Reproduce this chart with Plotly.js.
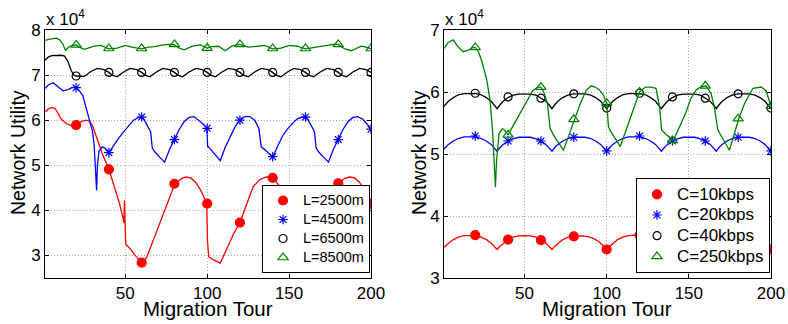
<!DOCTYPE html>
<html>
<head>
<meta charset="utf-8">
<script src="https://cdn.plot.ly/plotly-3.0.1.min.js"></script>
<style>html,body{margin:0;padding:0;background:#fff;}#chart{width:788px;height:324px;}</style>
</head>
<body>
<div id="chart"></div>
<script>
// ---------- shared ----------
const markerX = [20, 40, 60, 80, 100, 120, 140, 160, 180, 200];
const xTicks = [50, 100, 150, 200];
const yTicksLeft = [3, 4, 5, 6, 7, 8];
const yTicksRight = [3, 4, 5, 6, 7];

// ---------- left panel (values in x10^4) ----------
const leftNames = ['L=2500m', 'L=4500m', 'L=6500m', 'L=8500m'];

const L2500x = [1,3,5,7,9,11,14,17,20,23,26,28,30,33,36,40,44,46.5,48.5,49.2,49.5,50.3,51,53,56,60,63,67,71,75,80,84,87,90,93,96,99.7,100.2,101,104,108,112,116,120,124,128,132,136,140,144,148,149.7,150.2,151,154,158,162,166,170,174,178,180,184,187,190,193,196,200];
const L2500y = [6.18,6.25,6.28,6.27,6.15,6.02,5.92,5.88,5.89,5.97,6.0,5.98,5.88,5.55,5.25,4.91,4.45,4.15,3.85,3.72,4.22,3.25,3.22,3.15,3.0,2.84,2.95,3.33,3.72,4.07,4.56,4.7,4.74,4.72,4.62,4.45,4.16,3.3,2.97,2.9,2.83,3.15,3.47,3.73,4.15,4.52,4.68,4.74,4.72,4.55,4.25,4.16,3.3,2.97,2.9,2.83,3.15,3.47,3.73,4.15,4.52,4.6,4.71,4.74,4.72,4.62,4.45,4.15];
const L2500m = [5.89, 4.91, 2.84, 4.59, 4.15, 3.73, 4.72, 2.88, 4.6, 4.15];

const L4500x = [1,3,6,9,12,15,18,20,22,24,26,28,30,31,32,32.5,33,34,36,38,40,43,46,49,52,55,58,60,62,64,65.5,66.5,68,71,74,77,80,83,86,89,92,95,98,99.8,100.3,101.5,104,108,111,114,117,120,123,126,129,131.5,133,136,140,143,146,149,152,155,158,160,162,164,165.5,166.5,168,171,174,177,180,183,186,189,192,195,198,200];
const L4500y = [6.7,6.78,6.83,6.74,6.65,6.68,6.73,6.72,6.65,6.55,6.3,6.05,5.75,5.45,4.9,4.44,5.0,5.32,5.41,5.37,5.28,5.45,5.6,5.74,5.88,6.0,6.06,6.07,5.98,5.85,5.74,5.38,5.3,5.18,5.07,5.35,5.57,5.8,5.97,6.06,6.08,6.0,5.9,5.82,5.42,5.38,5.27,5.1,5.4,5.62,5.85,6.0,6.08,6.08,6.0,5.82,5.41,5.32,5.18,5.42,5.65,5.8,5.93,6.03,6.07,6.07,5.98,5.85,5.74,5.38,5.3,5.18,5.07,5.35,5.57,5.8,5.97,6.06,6.08,6.02,5.9,5.8];
const L4500m = [6.72, 5.28, 6.07, 5.57, 5.82, 6.0, 5.19, 6.07, 5.57, 5.8];

const L6500x = [1,3,5,8,11,13,15,17,18.5,20,22,25,29,33,37,40,42,45,49,53,57,60,62,65,69,73,77,80,82,85,89,93,97,100,102,105,109,113,117,120,122,125,129,133,137,140,142,145,149,153,157,160,162,165,169,173,177,180,182,185,189,193,197,200];
const L6500y = [7.33,7.4,7.43,7.44,7.44,7.42,7.3,7.1,7.0,6.98,6.97,6.97,7.08,7.15,7.12,7.06,7.0,6.96,7.07,7.15,7.12,7.06,7.0,6.96,7.07,7.15,7.12,7.06,7.0,6.96,7.07,7.15,7.12,7.06,7.0,6.96,7.07,7.15,7.12,7.06,7.0,6.96,7.07,7.15,7.12,7.06,7.0,6.96,7.07,7.15,7.12,7.06,7.0,6.96,7.07,7.15,7.12,7.06,7.0,6.96,7.07,7.15,7.12,7.06];
const L6500m = [6.98, 7.06, 7.06, 7.06, 7.06, 7.06, 7.06, 7.06, 7.06, 7.06];

const L8500x = [1,4,8,10,11.6,13.5,15.5,18,20,22,25,28,31,35,37.5,40,45,50,54,57,60,64,68,73,77,80,83,86,91,96,100,103,107,111,115,120,125,131,135,140,145,150,155,160,166,172,177,180,184,188,194,197,200];
const L8500y = [7.77,7.8,7.82,7.78,7.71,7.55,7.62,7.66,7.67,7.62,7.57,7.6,7.64,7.66,7.62,7.58,7.6,7.66,7.62,7.6,7.58,7.62,7.63,7.67,7.68,7.67,7.6,7.56,7.64,7.67,7.6,7.63,7.64,7.54,7.64,7.68,7.62,7.64,7.66,7.58,7.6,7.66,7.64,7.58,7.62,7.66,7.68,7.68,7.58,7.54,7.64,7.62,7.58];
const L8500m = [7.67, 7.59, 7.59, 7.68, 7.6, 7.68, 7.59, 7.59, 7.68, 7.59];

// ---------- right panel (values in x10^4) ----------
const rightNames = ['C=10kbps', 'C=20kbps', 'C=40kbps', 'C=250kbps'];

const arcX = [1,3.7,6.7,9.7,13.2,16.7,20.2,23.7,26.7,29.7,31.7,33.3,35,37,40,43,46.5,50,53.5,57,60,63,65,66.7,68.3,70.3,73.3,76.3,79.8,83.3,86.8,90.3,93.3,96.3,98.3,100,101.7,103.7,106.7,109.7,113.2,116.7,120.2,123.7,126.7,129.7,131.7,133.3,135,137,140,143,146.5,150,153.5,157,160,163,165,166.7,168.3,170.3,173.3,176.3,179.8,183.3,186.8,190.3,193.3,196.3,198.3,200];
const C10y = [3.49,3.56,3.62,3.66,3.685,3.69,3.685,3.66,3.62,3.56,3.51,3.46, 3.51,3.56,3.62,3.66,3.68,3.685,3.68,3.66,3.61,3.56,3.51,3.46, 3.51,3.56,3.62,3.655,3.675,3.68,3.675,3.655,3.62,3.56,3.51,3.46, 3.51,3.56,3.62,3.66,3.685,3.69,3.685,3.66,3.62,3.56,3.51,3.46, 3.51,3.56,3.62,3.66,3.68,3.685,3.68,3.66,3.61,3.56,3.51,3.46, 3.51,3.56,3.62,3.655,3.675,3.68,3.675,3.655,3.62,3.56,3.51,3.46];
const C10m = [3.69, 3.62, 3.61, 3.67, 3.46, 3.69, 3.62, 3.61, 3.67, 3.46];

const C20y = [5.08,5.155,5.21,5.25,5.275,5.28,5.275,5.25,5.21,5.155,5.10,5.045, 5.10,5.155,5.21,5.245,5.27,5.275,5.27,5.245,5.21,5.155,5.10,5.045, 5.10,5.155,5.21,5.25,5.27,5.275,5.27,5.25,5.21,5.155,5.10,5.045, 5.10,5.155,5.21,5.25,5.275,5.28,5.275,5.25,5.21,5.155,5.10,5.045, 5.10,5.155,5.21,5.245,5.27,5.275,5.27,5.245,5.21,5.155,5.10,5.045, 5.10,5.155,5.21,5.25,5.27,5.275,5.27,5.25,5.21,5.155,5.10,5.045];
const C20m = [5.29, 5.21, 5.21, 5.27, 5.05, 5.29, 5.21, 5.21, 5.27, 5.05];

const C40y = [5.77,5.85,5.91,5.955,5.975,5.98,5.975,5.955,5.91,5.85,5.79,5.73, 5.79,5.85,5.91,5.95,5.965,5.97,5.965,5.95,5.9,5.85,5.79,5.73, 5.79,5.85,5.91,5.95,5.97,5.975,5.97,5.95,5.91,5.85,5.79,5.73, 5.79,5.85,5.91,5.955,5.975,5.98,5.975,5.955,5.91,5.85,5.79,5.73, 5.79,5.85,5.91,5.95,5.965,5.97,5.965,5.95,5.9,5.85,5.79,5.73, 5.79,5.85,5.91,5.95,5.97,5.975,5.97,5.95,5.91,5.85,5.79,5.73];
const C40m = [5.98, 5.92, 5.9, 5.97, 5.74, 5.98, 5.92, 5.9, 5.97, 5.74];

const C250x = [1,3.5,6.5,9,12.5,15.5,18,20,22,24,27,29,30.5,31.5,32.3,33,34.5,36.5,38,40,43,46,49,52,55,58,60,62,64,65.6,68.2,71,73.7,77,80.5,84,87.6,90.6,93,95.7,98,100,101.1,102.5,108.3,112,115.4,120,123.6,127,130,132.2,133.4,136,140.6,144,148.1,151,154.3,157,160.4,163.5,165.5,167.6,171,174.7,180.5,184,189,194.1,197,199.2,200];
const C250y = [6.7,6.8,6.84,6.75,6.65,6.67,6.71,6.72,6.65,6.5,6.2,5.87,5.4,4.95,4.47,4.9,5.33,5.41,5.38,5.31,5.45,5.6,5.72,5.88,6.02,6.08,6.08,5.98,5.8,5.41,5.28,5.17,5.06,5.3,5.56,5.82,6.03,6.1,6.08,6.03,5.95,5.82,5.44,5.36,5.12,5.4,5.65,6.0,6.08,6.08,6.06,5.76,5.39,5.32,5.22,5.42,5.66,5.88,6.03,6.08,6.1,5.98,5.76,5.39,5.24,5.06,5.58,5.82,6.06,6.08,6.02,5.86,5.77];
const C250m = [6.72, 5.31, 6.08, 5.56, 5.82, 6.0, 5.22, 6.1, 5.57, 5.77];

// ---------- styles ----------
const colors = ['#ff0000', '#0000ff', '#000000', '#008000'];
const symbols = ['circle', 'asterisk-open', 'circle-open', 'triangle-up-open'];
const FONT = 'Liberation Sans, Arial, Helvetica, sans-serif';

function series(x, y, mY, name, i, xa, ya, leg, msize, labelPx) {
  return [
    {x: x, y: y, mode: 'lines', xaxis: xa, yaxis: ya, showlegend: false, legendgroup: xa + i,
     line: {color: colors[i], width: 1.3}, hoverinfo: 'skip'},
    {x: markerX, y: mY, mode: 'markers', name: '<span style="font-size:' + labelPx + 'px">' + name + '</span>',
     xaxis: xa, yaxis: ya, legend: leg, legendgroup: xa + i,
     marker: {color: colors[i], symbol: symbols[i], size: msize[i], line: {color: colors[i], width: 1.2}}}
  ];
}

const lSizes = [9, 8, 8, 9];
const rSizes = [9, 8, 8, 9];
let data = [];
data = data.concat(series(L2500x, L2500y, L2500m, leftNames[0], 0, 'x', 'y', 'legend', lSizes, 14.5));
data = data.concat(series(L4500x, L4500y, L4500m, leftNames[1], 1, 'x', 'y', 'legend', lSizes, 14.5));
data = data.concat(series(L6500x, L6500y, L6500m, leftNames[2], 2, 'x', 'y', 'legend', lSizes, 14.5));
data = data.concat(series(L8500x, L8500y, L8500m, leftNames[3], 3, 'x', 'y', 'legend', lSizes, 14.5));
data = data.concat(series(arcX, C10y, C10m, rightNames[0], 0, 'x2', 'y2', 'legend2', rSizes, 17));
data = data.concat(series(arcX, C20y, C20m, rightNames[1], 1, 'x2', 'y2', 'legend2', rSizes, 17));
data = data.concat(series(arcX, C40y, C40m, rightNames[2], 2, 'x2', 'y2', 'legend2', rSizes, 17));
data = data.concat(series(C250x, C250y, C250m, rightNames[3], 3, 'x2', 'y2', 'legend2', rSizes, 17));

const W = 788, H = 324;
const px = v => v / W;
const py = v => 1 - v / H;

function xax(dom, anchor) {
  return {domain: dom, anchor: anchor, range: [1, 200], tickvals: xTicks, ticks: 'inside', ticklen: 4,
    tickcolor: '#000', mirror: 'ticks', showline: true, linecolor: '#000', linewidth: 1,
    showgrid: true, gridcolor: '#a8a8a8', griddash: '1px,2px', gridwidth: 1, zeroline: false,
    tickfont: {family: FONT, size: 17, color: '#000'}, automargin: false};
}
function yax(dom, anchor, range, tv) {
  return {domain: dom, anchor: anchor, range: range, tickvals: tv, ticks: 'inside', ticklen: 4,
    tickcolor: '#000', mirror: 'ticks', showline: true, linecolor: '#000', linewidth: 1,
    showgrid: true, gridcolor: '#a8a8a8', griddash: '1px,2px', gridwidth: 1, zeroline: false,
    tickfont: {family: FONT, size: 17, color: '#000'}, automargin: false};
}

const yDom = [py(278), py(30)];
const layout = {
  width: W, height: H, margin: {l: 0, r: 0, t: 0, b: 0},
  paper_bgcolor: '#fff', plot_bgcolor: '#fff',
  font: {family: FONT, color: '#000'},
  xaxis: xax([px(45), px(371)], 'y'),
  yaxis: yax(yDom, 'x', [2.5, 8], yTicksLeft),
  xaxis2: xax([px(444), px(771)], 'y2'),
  yaxis2: yax(yDom, 'x2', [3, 7], yTicksRight),
  legend: {x: px(370), xanchor: 'right', y: py(273), yanchor: 'bottom', bgcolor: '#fff',
    bordercolor: '#000', borderwidth: 1, font: {family: FONT, size: 11.5, color: '#000'},
    itemwidth: 30, tracegroupgap: 0},
  legend2: {x: px(770), xanchor: 'right', y: py(273), yanchor: 'bottom', bgcolor: '#fff',
    bordercolor: '#000', borderwidth: 1, font: {family: FONT, size: 13.6, color: '#000'},
    itemwidth: 30, tracegroupgap: 0},
  annotations: [
    {text: 'x 10<sup>4</sup>', xref: 'paper', yref: 'paper', x: px(44), y: py(31), xanchor: 'left', yanchor: 'bottom',
     showarrow: false, font: {family: FONT, size: 17}},
    {text: 'x 10<sup>4</sup>', xref: 'paper', yref: 'paper', x: px(443), y: py(31), xanchor: 'left', yanchor: 'bottom',
     showarrow: false, font: {family: FONT, size: 17}},
    {text: 'Migration Tour', xref: 'paper', yref: 'paper', x: px(208), y: py(308), xanchor: 'center', yanchor: 'middle',
     showarrow: false, font: {family: FONT, size: 20.5}},
    {text: 'Migration Tour', xref: 'paper', yref: 'paper', x: px(607), y: py(308), xanchor: 'center', yanchor: 'middle',
     showarrow: false, font: {family: FONT, size: 20.5}},
    {text: 'Network Utility', xref: 'paper', yref: 'paper', x: px(18), y: py(153), xanchor: 'center', yanchor: 'middle',
     textangle: -90, showarrow: false, font: {family: FONT, size: 19.5}},
    {text: 'Network Utility', xref: 'paper', yref: 'paper', x: px(419), y: py(153), xanchor: 'center', yanchor: 'middle',
     textangle: -90, showarrow: false, font: {family: FONT, size: 19.5}}
  ]
};

Plotly.newPlot('chart', data, layout, {displayModeBar: false, staticPlot: true});
</script>
</body>
</html>
